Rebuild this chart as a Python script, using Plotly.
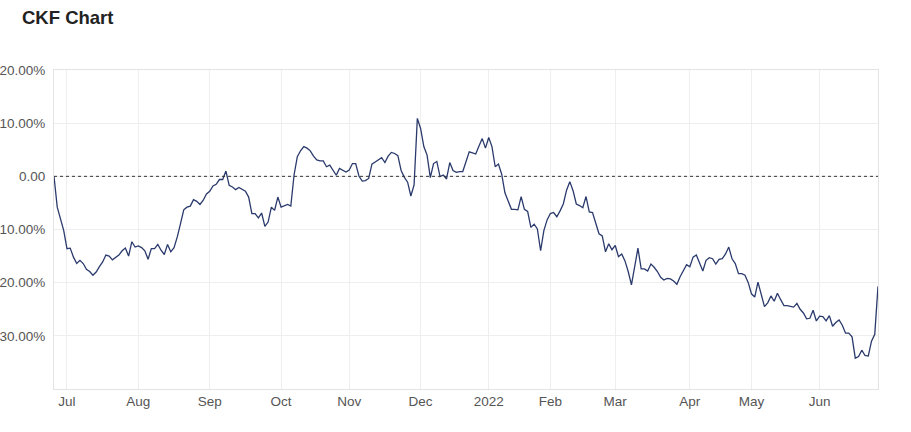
import pandas as pd
import plotly.graph_objects as go

# Trading calendar (first day, last day, market closures)
start_date = "2021-06-25"
end_date = "2022-06-27"
holidays = ["2021-12-24", "2021-12-31", "2022-01-03", "2022-01-17",
            "2022-04-15", "2022-04-18", "2022-05-30"]

# Cumulative return (%), in trading-day order
ret_2021_q3 = [0, -5.8, -8.0, -10.2, -13.6, -13.5, -15.2, -16.4, -15.8, -16.4, -17.5, -17.9, -18.6,
               -18.0, -17.0, -16.1, -14.8, -15.0, -15.7, -15.2, -14.8, -14.0, -13.5, -15.0, -12.3,
               -13.3, -13.1, -13.4, -14.0, -15.6, -13.6, -13.6, -12.8, -13.9, -14.7, -12.8, -14.2,
               -13.4, -11.4, -8.9, -6.3, -5.8, -5.6, -4.4, -4.7, -5.3, -4.5, -3.3, -2.8, -1.8, -1.5,
               -0.6, -0.6, 1.0, -1.7, -2.0, -2.5, -2.1, -2.4, -2.8, -3.9, -7.0, -7.0, -7.8, -6.9,
               -9.4, -8.6, -5.8, -6.4, -3.9]
ret_2021_q4 = [-5.8, -5.6, -5.3, -5.6,
               0.25, 3.7, 4.8, 5.6, 5.3, 4.8, 3.8, 3.1, 2.9, 2.9, 1.8, 2.1, 1.2, 0.2, 1.5, 1.2, 0.8,
               1.2, 2.4, 2.4, 0.06, -0.9, -0.8, -0.4, 2.3, 2.7, 3.1, 3.5, 2.6, 3.8, 4.5, 4.3, 3.9,
               1.1, -0.2, -1.1, -3.7, -1.6, 10.9, 9.0, 5.6, 4.0, -0.25, 2.4, 2.8, -0.06, 0.25, -0.5,
               2.6, 1.1, 0.75, 0.9, 0.9,
               2.8, 4.6, 4.4, 4.2, 5.7, 7.1, 5.3]
ret_2022_q1 = [7.3, 5.6, 1.8, 2.3, 0.4, -3.1, -4.8, -6.2, -6.2, -6.3, -3.8, -6.2, -6.6, -9.6, -9.0,
               -9.9, -14.0, -10.2, -8.2, -7.0, -6.8, -7.6, -6.5, -5.2, -2.6, -1.0, -2.7, -5.2, -5.5,
               -5.9, -3.8, -6.7, -6.8, -8.8, -10.8, -11.2, -14.2, -12.7, -13.8, -13.0, -15.1, -14.6,
               -15.9, -17.9, -20.4, -17.0, -13.5, -17.4, -17.4, -17.8, -16.5, -17.1, -17.9, -19.0,
               -19.5, -19.2, -19.3, -19.7, -20.3, -18.9, -17.8, -16.6]
ret_2022_q2 = [-17.0, -15.2, -14.8, -16.3, -17.8, -15.8, -15.3, -15.5, -16.5, -15.6, -15.5, -14.6,
               -13.3, -15.5, -16.4, -18.3, -18.3, -18.6, -20.0, -22.1, -22.7, -19.9, -22.2, -24.5,
               -23.8, -22.5, -23.5, -22.0, -23.2, -24.3, -24.3, -24.5, -24.6, -23.9, -25.0, -25.7,
               -26.8, -26.7, -25.2, -27.2, -26.3, -26.4, -27.2, -26.2, -28.2, -27.5, -27.0, -28.0,
               -29.5, -29.5, -30.2, -34.2, -33.9, -32.7, -33.7, -33.8, -31.0, -29.7, -20.7]

# Axis ticks
y_tickvals = [-30, -20, -10, 0, 10, 20]
y_ticktext = ["30.00%", "20.00%", "10.00%", "0.00", "10.00%", "20.00%"]
month_labels = {1: "2022", 2: "Feb", 3: "Mar", 4: "Apr", 5: "May", 6: "Jun",
                7: "Jul", 8: "Aug", 9: "Sep", 10: "Oct", 11: "Nov", 12: "Dec"}

values = ret_2021_q3 + ret_2021_q4 + ret_2022_q1 + ret_2022_q2
days = pd.bdate_range(start_date, end_date, freq="C", holidays=holidays)
n = min(len(days), len(values))
days = days[:n]
values = values[:n]
cats = [d.strftime("%Y-%m-%d") for d in days]

tickvals, ticktext = [], []
prev = None
for d, c in zip(days, cats):
    key = (d.year, d.month)
    if prev is not None and key != prev:
        tickvals.append(c)
        ticktext.append(month_labels[d.month])
    prev = key

fig = go.Figure()
fig.add_trace(go.Scatter(x=cats, y=values, mode="lines",
                         line=dict(color="#2a3a6c", width=1.3),
                         hoverinfo="skip", showlegend=False))
fig.add_hline(y=0, line=dict(color="#333333", width=1, dash="dot"))

font_family = "Liberation Sans, Arial, sans-serif"
fig.update_layout(
    width=911, height=432,
    margin=dict(l=54, r=33, t=70, b=43),
    paper_bgcolor="white", plot_bgcolor="white",
    title=dict(text="<b>CKF Chart</b>", x=22 / 911, xanchor="left",
               y=1 - 18 / 432, yanchor="middle", yref="container",
               font=dict(family=font_family, size=18.5, color="#222222")),
    font=dict(family=font_family, size=13.5, color="#555555"),
)
fig.update_xaxes(type="category", range=[0, n - 1], automargin=False,
                 tickmode="array", tickvals=tickvals, ticktext=ticktext,
                 showgrid=True, gridcolor="#eeeeee", gridwidth=1,
                 showline=True, linecolor="#e3e3e3", mirror=True,
                 ticks="", tickfont=dict(size=13.5, color="#555555"))
fig.update_yaxes(range=[-40, 20], automargin=False,
                 tickmode="array", tickvals=y_tickvals, ticktext=y_ticktext,
                 showgrid=True, gridcolor="#eeeeee", gridwidth=1, zeroline=False,
                 showline=True, linecolor="#e3e3e3", mirror=True,
                 ticks="", ticklabelstandoff=5, tickfont=dict(size=13.5, color="#555555"))

fig.write_html("out.html")
